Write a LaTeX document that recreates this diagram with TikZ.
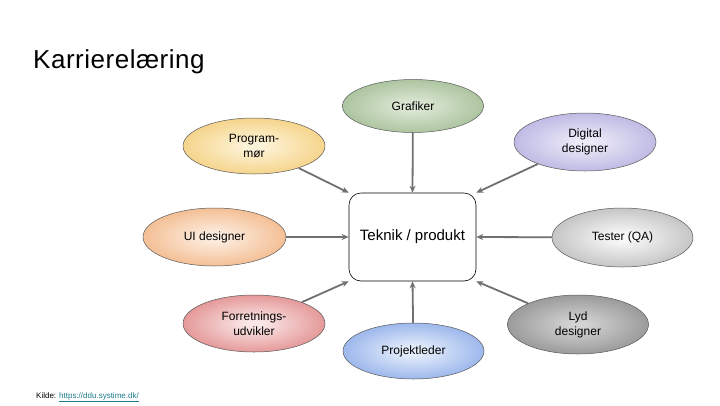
\documentclass[tikz,border=0pt]{standalone}
\usepackage{fontspec}
\setmainfont{Liberation Sans}
\usetikzlibrary{shapes.geometric,arrows.meta}
\definecolor{conn}{HTML}{707070}
\definecolor{linkc}{HTML}{1A7A8A}
\colorlet{shin}{white}
\colorlet{shout}{gray}
\pgfdeclareradialshading[shin,shout]{softrad}{\pgfpoint{0bp}{0bp}}{color(0bp)=(shin); color(3bp)=(shin); color(43bp)=(shout); color(100bp)=(shout)}
\tikzset{
  role/.style={ellipse, draw=black!65, line width=0.5pt, minimum width=142pt, minimum height=56pt, inner sep=0pt, align=center, font=\fontsize{12}{15}\selectfont},
  fillc/.style 2 args={/utils/exec={\definecolor{shin}{HTML}{#1}\definecolor{shout}{HTML}{#2}}, shading=softrad},
  conn/.style={draw=conn, line width=1.8pt, -{Stealth[length=7pt,width=6pt]}},
}
\begin{document}
\begin{tikzpicture}[x=1pt,y=-1pt]
\useasboundingbox (0,0) rectangle (720,405);
\fill[white] (0,0) rectangle (720,405);
\node[anchor=base west, inner sep=0pt, font=\fontsize{26}{30}\selectfont\addfontfeature{LetterSpace=2}] (title) at (33,68) {Karrierelæring};

\node[draw=black, line width=0.6pt, rounded corners=12pt, minimum width=127pt, minimum height=88pt, inner sep=0pt, font=\fontsize{15}{18}\selectfont] (c) at (412.5,237) {Teknik / produkt};

\node[role, fillc={DDE8D6}{86A874}, minimum width=141pt, minimum height=53pt] (graf) at (413,106) {Grafiker};
\node[role, fillc={FDF3D8}{EFBC4E}] (prog) at (254,146) {Program-\\mør};
\node[role, fillc={ECEAF8}{9A94D4}, minimum height=58pt] (dig) at (585,142) {Digital\\designer};
\node[role, fillc={FDEDE0}{EC9A58}, minimum width=143pt, minimum height=58pt] (ui) at (214.5,237) {UI designer};
\node[role, fillc={F8F8F8}{9C9C9C}, minimum width=141pt, minimum height=59pt] (test) at (622.5,237.5) {Tester (QA)};
\node[role, fillc={FAE6E6}{D45A5A}, minimum height=57pt] (forr) at (254,323.5) {Forretnings-\\udvikler};
\node[role, fillc={E6EEFB}{628CE0}, minimum width=141pt, minimum height=56pt] (proj) at (413.5,351) {Projektleder};
\node[role, fillc={D2D2D2}{6E6E6E}, minimum width=141pt, minimum height=59pt] (lyd) at (578,324.5) {Lyd\\designer};

\draw[conn] (graf) -- (c.north);
\draw[conn] (prog) -- (c.north west);
\draw[conn] (dig) -- (c.north east);
\draw[conn] (ui) -- (c.west);
\draw[conn] (test) -- (c.east);
\draw[conn] (forr) -- (c.south west);
\draw[conn] (proj) -- (c.south);
\draw[conn] (lyd) -- (c.south east);

\node[anchor=base west, font=\fontsize{8}{9}\selectfont, inner sep=0pt] (src) at (36,398) {Kilde: \textcolor{linkc}{\underline{https://ddu.systime.dk/}}};
\end{tikzpicture}
\end{document}
